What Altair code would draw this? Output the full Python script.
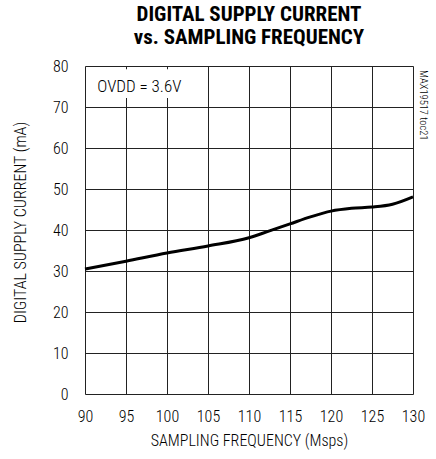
import altair as alt
import pandas as pd

freq = [90, 95, 100, 105, 110, 112.5, 115, 117.5, 120, 122.5, 125, 127.5, 130]
current = [30.5, 32.4, 34.4, 36.1, 38.1, 39.8, 41.5, 43.2, 44.6, 45.3, 45.6, 46.3, 48.1]
x_ticks = [90, 95, 100, 105, 110, 115, 120, 125, 130]
y_ticks = [0, 10, 20, 30, 40, 50, 60, 70, 80]

FONT = "Roboto Condensed, DejaVu Sans Condensed, Liberation Sans Narrow, Roboto, sans-serif"

df = pd.DataFrame({"f": freq, "i": current})

xs = alt.Scale(domain=[90, 130], nice=False, zero=False)
ys = alt.Scale(domain=[0, 80], nice=False)

line = alt.Chart(df).mark_line(color="black", strokeWidth=3, interpolate="monotone").encode(
    x=alt.X("f:Q", scale=xs, axis=alt.Axis(
        values=x_ticks, title="SAMPLING FREQUENCY (Msps)", grid=True, gridColor="#222",
        gridWidth=1, gridOpacity=1, ticks=False, domain=False, labelPadding=14,
        labelFlush=False, labelOverlap=False, labelFontWeight=300,
        labelFontSize=16, labelColor="black", labelFont=FONT, titleFont=FONT,
        titleFontSize=16, titleFontWeight=300, titleColor="black", titlePadding=8)),
    y=alt.Y("i:Q", scale=ys, axis=alt.Axis(
        values=y_ticks, title="DIGITAL SUPPLY CURRENT (mA)", grid=True, gridColor="#222",
        gridWidth=1, gridOpacity=1, ticks=False, domain=False, labelPadding=17,
        labelFlush=False, labelOverlap=False, labelFontWeight=300,
        labelFontSize=16, labelColor="black", labelFont=FONT, titleFont=FONT,
        titleFontSize=16, titleFontWeight=300, titleColor="black", titlePadding=24,
        titleY=156)),
)

box = alt.Chart(pd.DataFrame({"x1": [90.6], "x2": [102.6], "y1": [72.2], "y2": [79.2]})).mark_rect(
    color="white").encode(x="x1:Q", x2="x2:Q", y="y1:Q", y2="y2:Q")

note = alt.Chart(pd.DataFrame({"x": [91.5], "y": [73.7], "t": ["OVDD = 3.6V"]})).mark_text(
    align="left", baseline="alphabetic", fontSize=17, fontWeight=300, font=FONT,
    color="black").encode(x="x:Q", y="y:Q", text="t:N")

side = alt.Chart(pd.DataFrame({"x": [131.2], "y": [79.0], "t": ["MAX19517 toc21"]})).mark_text(
    align="left", baseline="middle", angle=90, fontSize=10.5, fontWeight=300, font=FONT,
    color="black").encode(x="x:Q", y="y:Q", text="t:N")

chart = alt.layer(box, line, note, side).properties(
    width=328, height=328,
    title=alt.TitleParams(
        text=["DIGITAL SUPPLY CURRENT", "vs. SAMPLING FREQUENCY"],
        font=FONT, fontSize=21, fontWeight="bold", color="black", anchor="middle",
        lineHeight=23, offset=10),
    autosize=alt.AutoSizeParams(type="none"),
    padding={"left": 85, "top": 66, "right": 23, "bottom": 65},
).configure_view(stroke="black", strokeWidth=3).configure(background="white")

chart.save("out.html", embed_options={"renderer": "svg", "actions": False})
